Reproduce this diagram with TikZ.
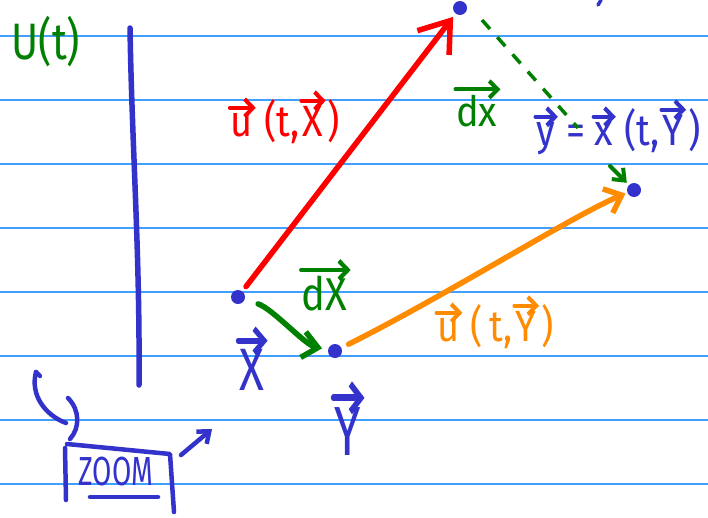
\documentclass[tikz,border=0pt]{standalone}
\usepackage{graphicx}
\usepackage{fontspec}
\setmainfont{Fira Sans}
\usetikzlibrary{arrows.meta}
\definecolor{pblue}{RGB}{51,51,204}
\definecolor{pgreen}{RGB}{0,128,0}
\definecolor{pred}{RGB}{255,0,0}
\definecolor{porange}{RGB}{255,140,0}
\definecolor{prule}{RGB}{64,160,255}
\newcommand{\vv}[1]{\tikz[baseline=(vvn.base)]{\node[inner sep=0pt,outer sep=0pt] (vvn) {#1};
  \draw[line width=0.1em, line cap=round, line join=round, -{Straight Barb[length=0.22em,width=0.4em]}]
    ([yshift=0.14em,xshift=-0.02em]vvn.north west) -- ([yshift=0.14em,xshift=0.08em]vvn.north east);}}
\newcommand{\hw}[2]{\scalebox{1}[#1]{#2}}
\tikzset{
  rule/.style={draw=prule, line width=1.3pt},
  pen/.style={line width=5.5pt, line cap=round, line join=round},
  bigtip/.style={-{Straight Barb[length=28pt,width=40pt]}},
  midtip/.style={-{Straight Barb[length=15pt,width=26pt]}},
  smalltip/.style={-{Straight Barb[length=10pt,width=16pt]}},
  dot/.style={circle, fill=pblue, inner sep=0pt, minimum size=14pt},
  lbl/.style={inner sep=0pt, font=\fontsize{38}{44}\selectfont},
}
\begin{document}
\begin{tikzpicture}[x=1pt,y=-1pt]
\useasboundingbox (0,0) rectangle (708,517);
\fill[white] (0,0) rectangle (708,517);
\foreach \yy in {36,100,164,228,292,356,420,484}
  \draw[rule] (0,\yy) -- (708,\yy);

% labels
\node[lbl, text=pgreen, font=\fontsize{41}{46}\selectfont] (U) at (46,42) {\hw{1.25}{U(t)}};
\node[lbl, text=pred] (ulab) at (284,117) {\hw{1.15}{\vv{u}\,(t,\vv{X})}};
\node[lbl, text=pgreen] (dxlab) at (478,103) {\hw{1.1}{\vv{dx}}};
\node[lbl, text=pblue] (ylab) at (617,127) {\hw{1.15}{\vv{y}\,=\,\vv{x}\,(t,\vv{Y})}};
\node[lbl, text=pgreen, font=\fontsize{40}{46}\selectfont] (dXlab) at (326,285) {\hw{1.15}{\vv{dX}}};
\node[lbl, text=pblue, font=\fontsize{46}{50}\selectfont] (Xlab) at (253,358) {\hw{1.3}{\vv{X}}};
\node[lbl, text=porange] (uYlab) at (494,322) {\hw{1.15}{\vv{u}\,(\,t,\vv{Y})}};
\node[lbl, text=pblue, font=\fontsize{48}{52}\selectfont] (Ylab) at (349,418) {\hw{1.45}{\vv{Y}}};
\node[lbl, text=pblue, font=\fontsize{28}{32}\selectfont] (zoom) at (116,472) {\hw{1.45}{ZOOM}};

% points
\node[dot] (X) at (238,297) {};
\node[dot] (T) at (460,8) {};
\node[dot] (Y) at (335,351) {};
\node[dot] (R) at (634,190) {};

% vertical line
\draw[pen, pblue] (130,28) .. controls (132,150) and (140,250) .. (139,385);

% arrows
\draw[pen, pred, bigtip, shorten <=6pt, shorten >=4pt] (X) -- (T);
\draw[pen, pgreen, midtip, shorten <=14pt, shorten >=6pt] (X) .. controls +(35,12) and +(-30,-6) .. (Y);
\draw[pen, porange, midtip, shorten <=8pt, shorten >=2pt] (Y) .. controls +(110,-55) and +(-60,25) .. (R);
\coordinate (dA) at (578,128);
\coordinate (dB) at (610,166);
\draw[pgreen, line width=3.5pt, dash pattern=on 12pt off 11pt] (T) ++(22,12) -- (dA);
\draw[pen, pgreen, smalltip, line width=4pt, shorten >=3pt] (dB) -- (R);

% top right stroke
\draw[pen, pblue, line width=3.5pt] (598,5) -- (601,0);

% zoom box and marks
\draw[pen, pblue, line width=4.5pt] (66,500) -- (65,448) (67,444) -- (170,454) -- (174,512);
\draw[pen, pblue, line width=4.5pt] (90,497) -- (158,497);
\draw[pen, pblue, line width=4.5pt] (36,372) .. controls (30,395) and (45,415) .. (66,423);
\draw[pen, pblue, line width=4.5pt] (36,372) -- (40,376);
\draw[pen, pblue, line width=4.5pt] (68,398) .. controls (80,410) and (80,428) .. (70,439);
\draw[pen, pblue, line width=4.5pt, smalltip] (181,455) -- (212,429);
\end{tikzpicture}
\end{document}
